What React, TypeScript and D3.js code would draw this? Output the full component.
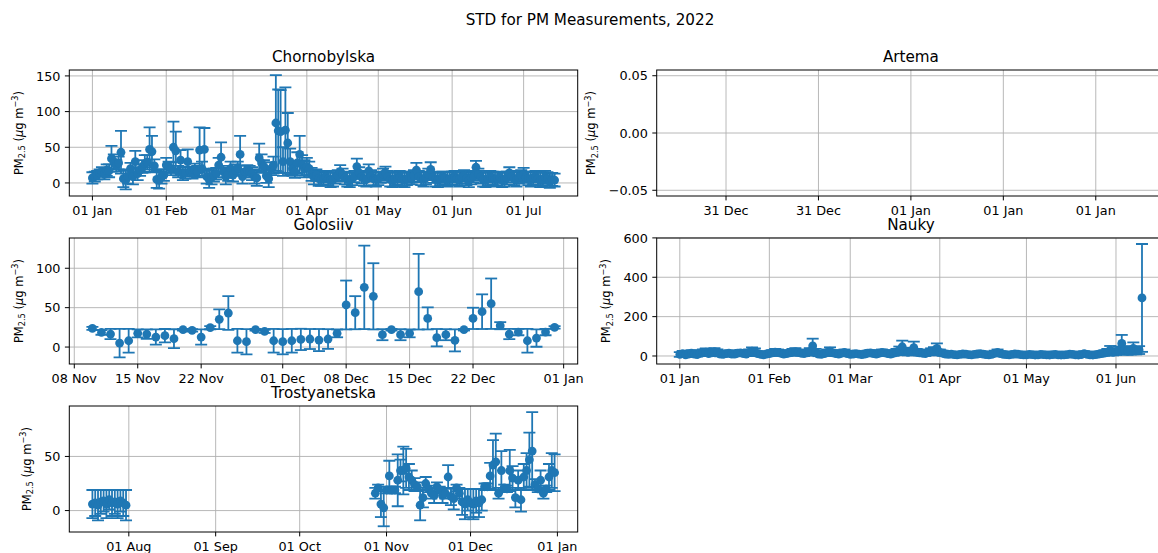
import React from 'react';
import * as d3 from 'd3';

const WIDTH = 1158;
const HEIGHT = 553;
const BLUE = '#1f77b4';
const FONT = 'DejaVu Sans, Liberation Sans, sans-serif';

const suptitle = 'STD for PM Measurements, 2022';

// Chornobylska, daily from 2022-01-01 to 2022-07-14
const chornobylskaStart = '2022-01-01';
const chornobylskaValues = [
  // Jan
  7, 9, 11, 14, 16, 12, 18, 17, 34, 30, 24, 28, 43, 6, 4, 9, 20, 9, 30, 13, 18, 23, 27, 29, 47, 44, 24, 5, 4, 9, 11,
  // Feb
  25, 22, 20, 50, 45, 16, 32, 13, 14, 30, 16, 14, 18, 16, 46, 20, 47, 9, 5, 9, 11, 13, 25, 36, 16, 9, 12, 20,
  // Mar
  11, 18, 21, 40, 9, 16, 18, 16, 13, 9, 7, 35, 28, 23, 10, 6, 20, 25, 84, 73, 72, 30, 74, 56, 30, 20, 16, 28, 40, 25, 20,
  // Apr
  23, 20, 12, 8, 11, 6, 5, 7, 9, 6, 4, 5, 8, 10, 16, 12, 7, 5, 4, 6, 9, 23, 14, 8, 6, 5, 17, 10, 6, 5,
  // May
  6, 8, 12, 14, 9, 5, 4, 6, 7, 9, 5, 4, 6, 8, 7, 10, 18, 9, 6, 5, 7, 12, 19, 8, 5, 4, 6, 8, 7, 5, 6,
  // Jun
  7, 9, 6, 5, 8, 10, 6, 4, 7, 9, 22, 12, 8, 5, 4, 6, 9, 7, 5, 6, 8, 4, 5, 7, 14, 9, 6, 5, 8, 10,
  // Jul
  12, 8, 6, 5, 7, 9, 6, 4, 5, 8, 6, 3, 5, 4,
];
const chornobylskaErrors = [
  8, 7, 6, 5, 6, 7, 8, 9, 18, 10, 8, 9, 30, 12, 13, 10, 8, 11, 15, 9, 8, 9, 12, 10, 31, 22, 9, 12, 12, 10, 8,
  10, 8, 9, 36, 27, 8, 14, 9, 8, 17, 7, 8, 9, 8, 32, 10, 30, 10, 12, 11, 9, 8, 10, 21, 8, 11, 9, 10,
  9, 8, 9, 26, 10, 8, 7, 8, 9, 10, 11, 20, 12, 9, 10, 12, 9, 12, 67, 58, 58, 20, 60, 42, 18, 10, 9, 15, 26, 14, 12,
  12, 10, 9, 10, 8, 10, 9, 9, 8, 9, 10, 10, 9, 8, 9, 8, 9, 10, 10, 9, 8, 11, 8, 9, 10, 10, 9, 8, 9, 10,
  9, 8, 8, 9, 8, 10, 10, 9, 9, 8, 10, 10, 9, 8, 9, 8, 10, 8, 9, 10, 9, 8, 10, 8, 10, 10, 9, 8, 9, 10, 9,
  9, 8, 9, 10, 9, 8, 9, 10, 9, 8, 9, 8, 9, 10, 10, 9, 8, 9, 10, 9, 8, 10, 10, 9, 8, 8, 9, 10, 9, 8,
  9, 8, 9, 10, 9, 8, 9, 10, 10, 9, 9, 10, 9, 9,
];

// Golosiiv, daily from 2022-11-10 to 2022-12-31
const golosiivStart = '2022-11-10';
const golosiivValues = [
  23.7, 18.6, 16.5, 5, 8, 17.4, 16.5, 12.7, 14.4, 10.6, 22, 21.2, 12.7, 24.6, 35.2, 43.2, 8, 6.8, 22, 19.9, 8,
  6.8, 8, 9.7, 10.2, 8.9, 10.2, 17.4, 53.4, 43.6, 75.8, 64.4, 15.7, 22, 15.7, 17.4, 70.3, 36.4, 11.9, 15.7, 8.5,
  22, 36.4, 44.9, 55, 27.1, 16.5, 19, 8, 11.4, 19, 25,
];
const golosiivErrors = [
  2, 3, 6.5, 18, 15, 5, 6, 9.7, 8.5, 12, 1, 1.5, 9.7, 2, 12.5, 21.5, 15, 16, 1, 2, 15,
  16, 15, 13.5, 12.7, 14, 12.5, 5, 31, 21, 53, 42, 7, 1, 7, 5, 48, 14, 11, 7, 14,
  1, 13.5, 22, 32, 4.5, 6.5, 4, 15, 11, 4, 1.5,
];

// Nauky, daily from 2022-01-01 to 2022-06-10
const naukyStart = '2022-01-01';
const naukyValues = [
  // Jan
  8, 12, 6, 10, 15, 9, 7, 14, 18, 20, 12, 16, 22, 18, 10, 8, 12, 15, 10, 9, 14, 16, 12, 10, 18, 24, 20, 12, 8, 6, 10,
  // Feb
  12, 16, 20, 18, 14, 10, 12, 16, 20, 22, 18, 14, 12, 16, 22, 51, 20, 10, 8, 12, 18, 24, 16, 12, 10, 14, 18, 12,
  // Mar
  8, 10, 12, 9, 7, 10, 14, 16, 12, 10, 14, 18, 16, 12, 10, 14, 20, 28, 47, 24, 18, 22, 42, 20, 16, 14, 12, 18, 22, 26, 39,
  // Apr
  18, 14, 10, 8, 9, 7, 6, 8, 10, 9, 7, 6, 8, 10, 12, 9, 7, 6, 8, 14, 18, 12, 8, 7, 6, 8, 10, 9, 7, 6,
  // May
  6, 8, 7, 5, 6, 8, 7, 6, 5, 7, 8, 6, 5, 6, 7, 9, 8, 6, 5, 7, 12, 8, 6, 5, 7, 9, 12, 15, 20, 30, 18,
  // Jun
  22, 28, 64, 30, 24, 28, 39, 26, 30, 295,
];
const naukyErrors = [
  12, 14, 10, 12, 15, 12, 10, 14, 16, 18, 12, 15, 18, 16, 12, 10, 12, 14, 12, 10, 13, 15, 12, 11, 16, 20, 18, 12, 10, 9, 11,
  12, 14, 16, 15, 13, 11, 12, 14, 16, 18, 15, 13, 12, 14, 18, 37, 16, 11, 10, 12, 15, 20, 14, 12, 11, 13, 15, 12,
  10, 11, 12, 10, 9, 11, 13, 14, 12, 11, 13, 15, 14, 12, 11, 13, 16, 20, 31, 18, 15, 17, 31, 16, 14, 13, 12, 15, 17, 19, 25,
  15, 13, 11, 10, 10, 9, 9, 10, 11, 10, 9, 9, 10, 11, 12, 10, 9, 9, 10, 13, 15, 12, 10, 9, 9, 10, 11, 10, 9, 9,
  9, 10, 9, 8, 9, 10, 9, 9, 8, 9, 10, 9, 8, 9, 9, 10, 10, 9, 8, 9, 12, 10, 9, 8, 9, 10, 12, 14, 16, 21, 15,
  17, 20, 43, 20, 18, 20, 30, 18, 20, 274,
];

// Trostyanetska, two daily runs
const trostSummerStart = '2022-07-19';
const trostSummerValues = [6, 7, 5, 8, 9, 6, 10, 7, 8, 6, 9, 7, 5];
const trostSummerErrors = [13, 12, 14, 11, 10, 13, 9, 12, 11, 13, 10, 12, 14];
const trostWinterStart = '2022-10-28';
const trostWinterValues = [
  // Oct 28-31
  16, 21, 6, 2.5,
  // Nov
  19, 32, 19, 19, 28, 37, 37, 39, 31, 28, 24, 22, 5, 12, 25, 20, 16, 14, 22, 19, 14, 16, 31, 13, 11, 21, 16, 8, 6, 10,
  // Dec
  7, 6, 9, 7, 10, 22, 22, 32, 42, 45, 16, 37, 21, 20, 37, 30, 12, 28, 10, 31, 37, 47, 55, 24, 20, 28, 16, 20, 31, 37, 35,
];
const trostWinterErrors = [
  5, 3, 12, 17,
  3, 14, 3, 3, 24, 10, 22, 18, 12, 9, 6, 4, 14, 9, 6, 3, 5, 7, 4, 3, 7, 5, 11, 8, 10, 3, 5, 12, 14, 10,
  13, 14, 11, 13, 10, 3, 3, 12, 23, 26, 5, 18, 3, 3, 19, 11, 9, 9, 11, 12, 16, 25, 36, 5, 3, 9, 5, 3, 12, 16, 17,
];

// Artema has no data: matplotlib's empty date axis
const artemaXTicks = [-0.04, -0.02, 0, 0.02, 0.04];
const artemaXTickLabels = ['31 Dec', '31 Dec', '01 Jan', '01 Jan', '01 Jan'];
const artemaYTicks = [-0.05, 0, 0.05];

// tick dates
const chornobylskaXTicks = ['2022-01-01', '2022-02-01', '2022-03-01', '2022-04-01', '2022-05-01', '2022-06-01', '2022-07-01'];
const golosiivXTicks = ['2022-11-08', '2022-11-15', '2022-11-22', '2022-12-01', '2022-12-08', '2022-12-15', '2022-12-22', '2023-01-01'];
const naukyXTicks = ['2022-01-01', '2022-02-01', '2022-03-01', '2022-04-01', '2022-05-01', '2022-06-01'];
const trostXTicks = ['2022-08-01', '2022-09-01', '2022-10-01', '2022-11-01', '2022-12-01', '2023-01-01'];

const utc = (s: string) => new Date(s + 'T00:00:00Z');
const daily = (start: string, n: number) => d3.range(n).map((i) => d3.utcDay.offset(utc(start), i));

type Point = { date: Date; value: number; err: number };
const toPoints = (start: string, values: number[], errors: number[]): Point[] =>
  daily(start, values.length).map((date, i) => ({ date, value: values[i], err: errors[i] }));

type PanelSpec = {
  title: string;
  col: number;
  row: number;
  points: Point[];
  yDomain: [number, number];
  yTicks: number[];
  yFormat: (v: number) => string;
  xTicks: string[];
};

const panels: PanelSpec[] = [
  {
    title: 'Chornobylska', col: 0, row: 0,
    points: toPoints(chornobylskaStart, chornobylskaValues, chornobylskaErrors),
    yDomain: [-18.3, 158.3], yTicks: [0, 50, 100, 150], yFormat: d3.format('d'), xTicks: chornobylskaXTicks,
  },
  {
    title: 'Golosiiv', col: 0, row: 1,
    points: toPoints(golosiivStart, golosiivValues, golosiivErrors),
    yDomain: [-21.5, 138.4], yTicks: [0, 50, 100], yFormat: d3.format('d'), xTicks: golosiivXTicks,
  },
  {
    title: 'Nauky', col: 1, row: 1,
    points: toPoints(naukyStart, naukyValues, naukyErrors),
    yDomain: [-40.7, 599.5], yTicks: [0, 200, 400, 600], yFormat: d3.format('d'), xTicks: naukyXTicks,
  },
  {
    title: 'Trostyanetska', col: 0, row: 2,
    points: [
      ...toPoints(trostSummerStart, trostSummerValues, trostSummerErrors),
      ...toPoints(trostWinterStart, trostWinterValues, trostWinterErrors),
    ],
    yDomain: [-19.8, 96.6], yTicks: [0, 50], yFormat: d3.format('d'), xTicks: trostXTicks,
  },
];

// layout (px)
const colLeft = [69.3, 656.7];
const rowTop = [70, 238, 406];
const AX_W = 508.4;
const AX_H = 126;
const TICK = 4.4;
const PAD = 4.4;
const TICK_FS = 12.8;
const TITLE_FS = 15.2;
const LABEL_FS = 11.5;
const CAP = 6;
const MARKER_R = 4.4;

let ctx: CanvasRenderingContext2D | null = null;
const textWidth = (s: string) => {
  if (!ctx) ctx = document.createElement('canvas').getContext('2d');
  if (!ctx) return s.length * 8;
  ctx.font = `${TICK_FS}px DejaVu Sans`;
  return ctx.measureText(s).width;
};

const YLabel = ({ x, y }: { x: number; y: number }) => (
  <text
    transform={`translate(${x},${y}) rotate(-90)`}
    textAnchor="middle"
    fontSize={LABEL_FS}
    fontFamily={FONT}
    dy="0.35em"
  >
    PM<tspan dy={2.5} fontSize={8.2}>2.5</tspan>
    <tspan dy={-2.5}> (</tspan>
    <tspan fontStyle="italic">μ</tspan>g m
    <tspan dy={-4.5} fontSize={8.2}>−3</tspan>
    <tspan dy={4.5}>)</tspan>
  </text>
);

type Tick = { pos: number; label: string };

const Frame = ({
  id, title, left, top, yTicks, xTicks, children,
}: {
  id: string; title: string; left: number; top: number; yTicks: Tick[]; xTicks: Tick[]; children?: React.ReactNode;
}) => {
  const bottom = top + AX_H;
  const right = left + AX_W;
  const maxW = d3.max(yTicks, (t) => textWidth(t.label)) ?? 0;
  return (
    <g>
      <defs>
        <clipPath id={`clip-${id}`}>
          <rect x={left} y={top} width={AX_W} height={AX_H} />
        </clipPath>
      </defs>
      {/* grid */}
      <g stroke="#b0b0b0" strokeWidth={0.9}>
        {xTicks.map((t, i) => (
          <line key={`gx${i}`} x1={t.pos} x2={t.pos} y1={top} y2={bottom} />
        ))}
        {yTicks.map((t, i) => (
          <line key={`gy${i}`} x1={left} x2={right} y1={t.pos} y2={t.pos} />
        ))}
      </g>
      <g clipPath={`url(#clip-${id})`}>{children}</g>
      <rect x={left} y={top} width={AX_W} height={AX_H} fill="none" stroke="#000" strokeWidth={1} />
      {/* ticks */}
      <g stroke="#000" strokeWidth={1}>
        {xTicks.map((t, i) => (
          <line key={`tx${i}`} x1={t.pos} x2={t.pos} y1={bottom} y2={bottom + TICK} />
        ))}
        {yTicks.map((t, i) => (
          <line key={`ty${i}`} x1={left - TICK} x2={left} y1={t.pos} y2={t.pos} />
        ))}
      </g>
      <g fontFamily={FONT} fontSize={TICK_FS} fill="#000">
        {xTicks.map((t, i) => (
          <text key={`lx${i}`} x={t.pos} y={bottom + TICK + PAD} dy="0.76em" textAnchor="middle">
            {t.label}
          </text>
        ))}
        {yTicks.map((t, i) => (
          <text key={`ly${i}`} x={left - TICK - PAD} y={t.pos} dy="0.36em" textAnchor="end">
            {t.label}
          </text>
        ))}
      </g>
      <text x={left + AX_W / 2} y={top - 8} textAnchor="middle" fontFamily={FONT} fontSize={TITLE_FS}>
        {title}
      </text>
      <YLabel x={left - 26.3 - maxW} y={top + AX_H / 2} />
    </g>
  );
};

const DataPanel = ({ p }: { p: PanelSpec }) => {
  const left = colLeft[p.col];
  const top = rowTop[p.row];
  const ext = d3.extent(p.points, (d) => d.date) as [Date, Date];
  const span = +ext[1] - +ext[0];
  const x = d3
    .scaleUtc()
    .domain([new Date(+ext[0] - 0.05 * span), new Date(+ext[1] + 0.05 * span)])
    .range([left, left + AX_W]);
  const y = d3.scaleLinear().domain(p.yDomain).range([top + AX_H, top]);
  const fmt = d3.utcFormat('%d %b');
  const xTicks = p.xTicks.map((s) => ({ pos: x(utc(s)), label: fmt(utc(s)) }));
  const yTicks = p.yTicks.map((v) => ({ pos: y(v), label: p.yFormat(v) }));
  return (
    <Frame id={p.title} title={p.title} left={left} top={top} xTicks={xTicks} yTicks={yTicks}>
      <g stroke={BLUE} strokeWidth={1.8}>
        {p.points.map((d, i) => (
          <line key={`b${i}`} x1={x(d.date)} x2={x(d.date)} y1={y(d.value - d.err)} y2={y(d.value + d.err)} />
        ))}
        {p.points.map((d, i) => (
          <g key={`c${i}`}>
            <line x1={x(d.date) - CAP} x2={x(d.date) + CAP} y1={y(d.value - d.err)} y2={y(d.value - d.err)} />
            <line x1={x(d.date) - CAP} x2={x(d.date) + CAP} y1={y(d.value + d.err)} y2={y(d.value + d.err)} />
          </g>
        ))}
      </g>
      <g fill={BLUE}>
        {p.points.map((d, i) => (
          <circle key={`m${i}`} cx={x(d.date)} cy={y(d.value)} r={MARKER_R} />
        ))}
      </g>
    </Frame>
  );
};

const EmptyPanel = () => {
  const left = colLeft[1];
  const top = rowTop[0];
  const x = d3.scaleLinear().domain([-0.055, 0.055]).range([left, left + AX_W]);
  const y = d3.scaleLinear().domain([-0.055, 0.055]).range([top + AX_H, top]);
  const fmt = d3.format('.2f');
  const xTicks = artemaXTicks.map((v, i) => ({ pos: x(v), label: artemaXTickLabels[i] }));
  const yTicks = artemaYTicks.map((v) => ({ pos: y(v), label: fmt(v) }));
  return <Frame id="Artema" title="Artema" left={left} top={top} xTicks={xTicks} yTicks={yTicks} />;
};

export default function App() {
  return (
    <svg
      width={WIDTH}
      height={HEIGHT}
      style={{ position: 'absolute', left: 0, top: 0, background: '#fff' }}
    >
      <rect width={WIDTH} height={HEIGHT} fill="#fff" />
      <text x={590} y={24.5} textAnchor="middle" fontFamily={FONT} fontSize={TITLE_FS}>
        {suptitle}
      </text>
      {panels.map((p) => (
        <DataPanel key={p.title} p={p} />
      ))}
      <EmptyPanel />
    </svg>
  );
}
